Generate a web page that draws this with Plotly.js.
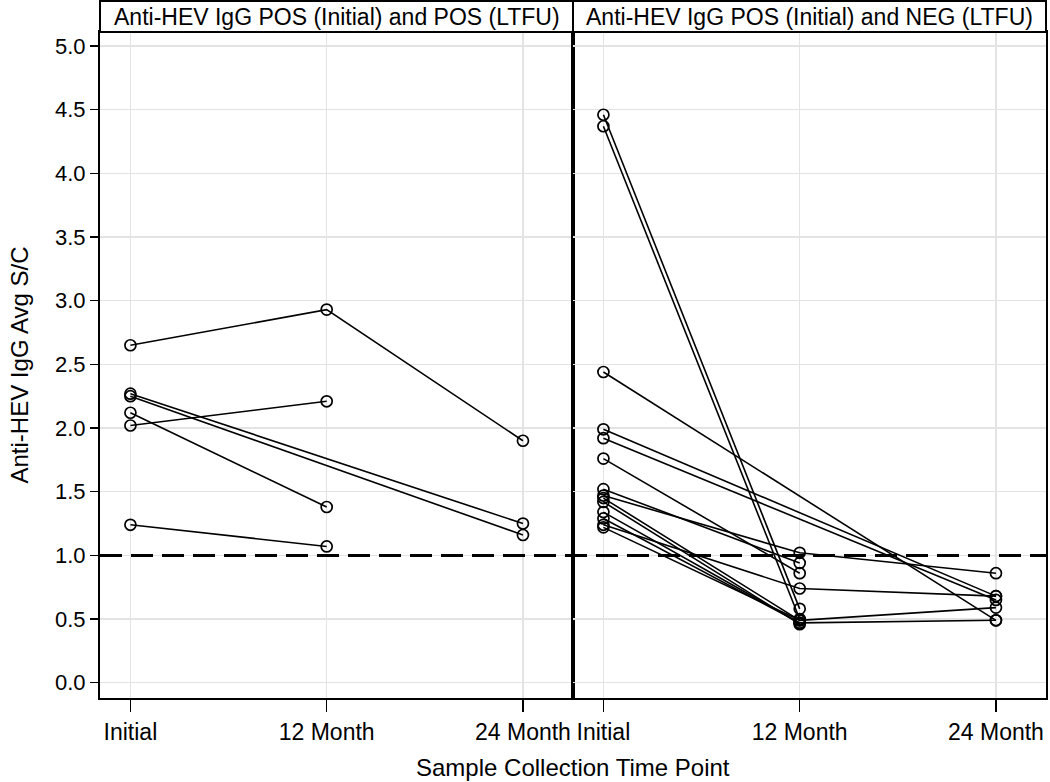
<!DOCTYPE html>
<html>
<head>
<meta charset="utf-8">
<script src="https://cdn.plot.ly/plotly-3.0.1.min.js"></script>
<style>
  body { margin: 0; background: #fff; }
  #plot { width: 1050px; height: 782px; }
</style>
</head>
<body>
<div id="plot"></div>
<script>
// time points on the x axis
var timePoints = ["Initial", "12 Month", "24 Month"];

// panel headers
var panelTitles = [
  "Anti-HEV IgG POS (Initial) and POS (LTFU)",
  "Anti-HEV IgG POS (Initial) and NEG (LTFU)"
];

// cutoff S/C
var cutoff = 1.0;

// left panel: POS initial, POS at LTFU (one array per subject, null = not sampled)
var pos1 = [2.65, 2.93, 1.90];
var pos2 = [2.27, null, 1.25];
var pos3 = [2.25, null, 1.16];
var pos4 = [2.02, 2.21, null];
var pos5 = [2.12, 1.38, null];
var pos6 = [1.24, 1.07, null];

// right panel: POS initial, NEG at LTFU
var neg1 = [4.46, 0.58, null];
var neg2 = [4.37, 0.50, null];
var neg3 = [2.44, null, 0.49];
var neg4 = [1.99, null, 0.68];
var neg5 = [1.92, null, 0.65];
var neg6 = [1.76, 0.86, null];
var neg7 = [1.52, 0.94, null];
var neg8 = [1.47, 1.02, 0.86];
var neg9 = [1.45, 0.49, 0.59];
var neg10 = [1.42, 0.46, null];
var neg11 = [1.34, 0.47, 0.49];
var neg12 = [1.29, 0.47, null];
var neg13 = [1.24, 0.74, 0.68];
var neg14 = [1.22, 0.49, null];

var leftSeries = [pos1, pos2, pos3, pos4, pos5, pos6];
var rightSeries = [neg1, neg2, neg3, neg4, neg5, neg6, neg7, neg8, neg9, neg10, neg11, neg12, neg13, neg14];

var font = "Liberation Sans, Arial, sans-serif";

function makeTrace(vals, xa, ya) {
  return {
    x: timePoints,
    y: vals,
    xaxis: xa,
    yaxis: ya,
    type: "scatter",
    mode: "lines+markers",
    connectgaps: true,
    line: {color: "black", width: 1.6},
    marker: {symbol: "circle-open", size: 11, color: "black", line: {width: 1.7, color: "black"}},
    hoverinfo: "x+y"
  };
}

var data = [];
leftSeries.forEach(function(s) { data.push(makeTrace(s, "x", "y")); });
rightSeries.forEach(function(s) { data.push(makeTrace(s, "x2", "y2")); });

var xCommon = {
  type: "category",
  range: [-0.155, 2.255],
  showgrid: true,
  gridcolor: "#e3e3e3",
  gridwidth: 1.5,
  showline: true,
  mirror: true,
  linecolor: "black",
  linewidth: 2,
  ticks: "outside",
  ticklen: 12,
  tickwidth: 1.5,
  tickcolor: "black",
  tickfont: {family: font, size: 23, color: "black"},
  zeroline: false,
  fixedrange: true
};

var yCommon = {
  range: [-0.12, 5.11],
  dtick: 0.5,
  tick0: 0,
  tickformat: ".1f",
  showgrid: true,
  gridcolor: "#e3e3e3",
  gridwidth: 1.5,
  showline: true,
  mirror: true,
  linecolor: "black",
  linewidth: 2,
  zeroline: false,
  fixedrange: true
};

var headerH = 31 / 667;

var layout = {
  width: 1050,
  height: 782,
  margin: {l: 100, r: 4, t: 32, b: 84},
  paper_bgcolor: "white",
  plot_bgcolor: "white",
  showlegend: false,
  font: {family: font, color: "black"},
  xaxis: Object.assign({}, xCommon, {domain: [0, 0.5], anchor: "y"}),
  xaxis2: Object.assign({}, xCommon, {domain: [0.5, 1], anchor: "y2"}),
  yaxis: Object.assign({}, yCommon, {
    anchor: "x",
    ticks: "outside",
    ticklen: 8,
    tickwidth: 1.5,
    tickcolor: "black",
    tickfont: {family: font, size: 22, color: "black"},
    title: {text: "Anti-HEV IgG Avg S/C", font: {family: font, size: 24, color: "black"}, standoff: 20}
  }),
  yaxis2: Object.assign({}, yCommon, {anchor: "x2", matches: "y", showticklabels: false, ticks: ""}),
  shapes: [
    {type: "line", xref: "paper", yref: "y", x0: 0, x1: 1, y0: cutoff, y1: cutoff,
     line: {color: "black", width: 3, dash: "22px,9px"}, layer: "above"},
    {type: "rect", xref: "paper", yref: "paper", x0: 0, x1: 0.5, y0: 1, y1: 1 + headerH,
     line: {color: "black", width: 2}, fillcolor: "white"},
    {type: "rect", xref: "paper", yref: "paper", x0: 0.5, x1: 1, y0: 1, y1: 1 + headerH,
     line: {color: "black", width: 2}, fillcolor: "white"}
  ],
  annotations: [
    {text: panelTitles[0], xref: "paper", yref: "paper", x: 0.25, y: 1 + headerH / 2,
     xanchor: "center", yanchor: "middle", showarrow: false, font: {family: font, size: 23, color: "black"}},
    {text: panelTitles[1], xref: "paper", yref: "paper", x: 0.75, y: 1 + headerH / 2,
     xanchor: "center", yanchor: "middle", showarrow: false, font: {family: font, size: 23, color: "black"}},
    {text: "Sample Collection Time Point", xref: "paper", yref: "paper", x: 0.5, y: 0,
     xanchor: "center", yanchor: "top", yshift: -54, showarrow: false,
     font: {family: font, size: 24, color: "black"}}
  ]
};

Plotly.newPlot("plot", data, layout, {displayModeBar: false, staticPlot: true});
</script>
</body>
</html>
